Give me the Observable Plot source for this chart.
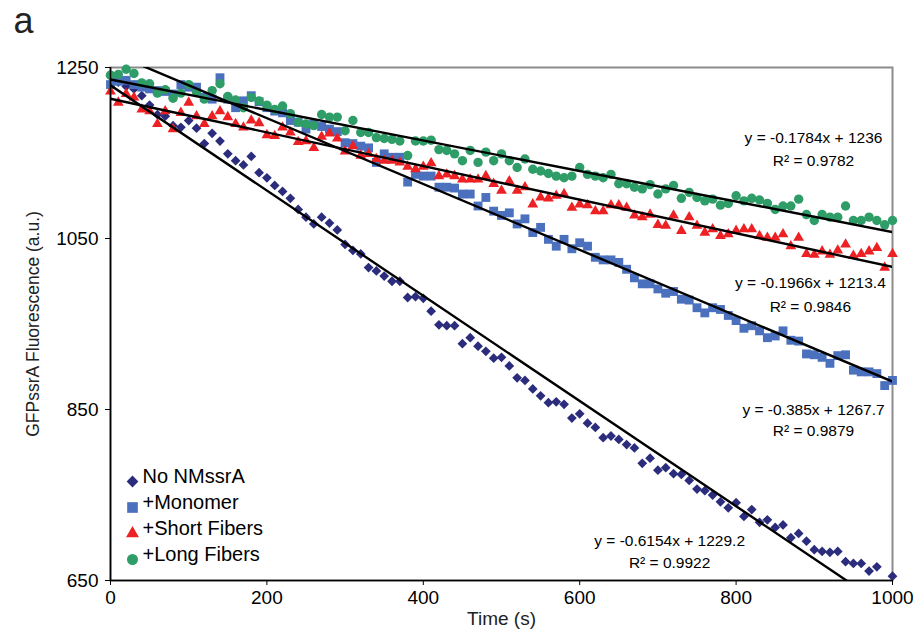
<!DOCTYPE html>
<html>
<head>
<meta charset="utf-8">
<script src="https://cdn.jsdelivr.net/npm/d3@7"></script>
<script src="https://cdn.jsdelivr.net/npm/@observablehq/plot@0.6"></script>
<style>
  html, body { margin: 0; padding: 0; background: #fff; }
  #chart { width: 922px; height: 640px; }
</style>
</head>
<body>
<div id="chart"></div>
<script>
// Sampling times (s)
const times = d3.range(0, 1001, 10);

// Series values (GFPssrA fluorescence, a.u.)
const noNMssrA = [1240,1233,1228,1225,1217,1206,1195,1193,1182,1180,
  1188,1179,1161,1173,1164,1149,1141,1136,1146,1127,
  1121,1112,1105,1097,1084,1075,1067,1075,1068,1060,
  1043,1036,1032,1016,1012,1006,1000,1000,981,982,
  980,965,949,948,948,927,934,924,918,910,
  911,901,887,884,874,866,858,859,856,840,
  845,834,829,817,819,815,809,805,787,793,
  779,782,775,774,767,757,755,750,742,735,
  741,725,733,718,721,712,715,700,705,696,
  686,684,683,684,672,670,670,661,666,null,
  655];
const monomer = [1230,1234,1235,1230,1227,1225,1223,1222,1219,1230,
  1227,1227,1215,1213,1238,1213,1203,1211,1217,1210,
  1203,1199,1197,1188,1186,1178,1184,1181,1178,1175,
  1162,1161,1158,1156,1139,1149,1145,1145,1116,1125,
  1123,1123,1110,1110,1109,1102,1102,1088,1098,1082,
  1077,1080,1067,1073,1057,1063,1049,1041,1049,1038,
  1045,1041,1028,1025,1025,1022,1014,1004,997,997,
  991,986,988,979,978,969,963,969,967,960,
  954,945,948,942,934,936,942,931,930,915,
  914,911,904,913,914,896,894,894,892,878,
  884];
const shortFibers = [1222,1209,1219,1215,1201,1199,1184,1199,1178,1197,
  1209,1193,1184,1193,1199,1192,1184,1180,1188,1185,
  1171,1170,1180,1174,1163,1164,1156,1169,1173,1167,
  1152,1158,1147,1149,1143,1141,1141,1139,1134,1131,
  1134,1138,1123,1125,1123,1119,1119,1119,1123,1114,
  1106,1117,1106,1110,1090,1098,1097,1100,1102,1086,
  1090,1089,1082,1082,1089,1089,1086,1077,1075,1078,
  1066,1065,1077,1059,1075,1065,1057,1061,1053,1055,
  1059,1061,1061,1053,1051,1051,1055,1041,1051,1032,
  1031,1035,1031,1036,1043,1030,1032,1035,1039,1016,
  1032];
const longFibers = [1241,1242,1248,1243,1232,1231,1220,1224,1214,1220,
  1230,1221,1213,1223,1231,1216,1212,1203,1215,1211,
  1206,1201,1205,1196,1186,1184,1182,1195,1192,1192,
  1176,1188,1174,1174,1168,1167,1166,1164,1147,1164,
  1164,1165,1154,1153,1149,1141,1153,1139,1151,1141,
  1149,1141,1133,1143,1131,1129,1126,1123,1121,1123,
  1133,1125,1123,1121,1125,1114,1114,1110,1108,1113,
  1102,1108,1112,1097,1104,1098,1094,1096,1089,1091,
  1100,1094,1097,1095,1091,1084,1088,1088,1096,1078,
  1071,1078,1075,1075,1088,1071,1071,1075,1071,1066,
  1071];

const seriesNames = ["No NMssrA", "+Monomer", "+Short Fibers", "+Long Fibers"];
const seriesValues = [noNMssrA, monomer, shortFibers, longFibers];

// Linear fits shown on the figure
const slopes = [-0.6154, -0.385, -0.1966, -0.1784];
const intercepts = [1229.2, 1267.7, 1213.4, 1236];
const rSquared = ["0.9922", "0.9879", "0.9846", "0.9782"];

const xTicks = [0, 200, 400, 600, 800, 1000];
const yTicks = [650, 850, 1050, 1250];

// Styles
const colors = ["#2b2d7c", "#4b70bd", "#ed2024", "#2f9d68"];
const symbols = ["diamond2", "square", "triangle", "circle"];
const radii = [4.4, 5.0, 4.0, 4.7];
const legendRadii = [5.3, 6.0, 4.8, 5.5];

const rows = seriesValues.map(vals =>
  times.map((t, i) => ({t, v: vals[i]})).filter(d => d.v != null));

const fitLines = slopes.map((m, i) =>
  [0, 1000].map(x => ({x, y: m * x + intercepts[i]})));

// annotation placement (data units) for each fit label
const eqPos = [[715, 696], [899, 849], [895, 998], [899, 1167]];
const r2Pos = [[715, 671], [899, 825], [895, 970], [899, 1141]];

const legendDy = [-99, -73, -47, -21];

const font = "Liberation Sans, Arial, Helvetica, sans-serif";

const marks = [
  Plot.frame({stroke: "#8c8c8c", strokeWidth: 2})
];
rows.forEach((r, i) => {
  marks.push(Plot.dot(r, {x: "t", y: "v", symbol: symbols[i], fill: colors[i], r: radii[i], stroke: "none"}));
});
fitLines.forEach(l => {
  marks.push(Plot.line(l, {x: "x", y: "y", stroke: "black", strokeWidth: 2.4, clip: true}));
});
marks.push(
  Plot.ruleX([0], {stroke: "black", strokeWidth: 1.6}),
  Plot.ruleY([650], {stroke: "black", strokeWidth: 1.6}),
  Plot.axisX({ticks: xTicks, tickSize: 5, tickPadding: 5, label: null, tickFormat: d => String(d), fontSize: 19}),
  Plot.axisY({ticks: yTicks, tickSize: 5, tickPadding: 7, label: null, tickFormat: d => String(d), fontSize: 19}),
  Plot.text(["GFPssrA Fluorescence (a.u.)"], {frameAnchor: "left", dx: -77, rotate: -90, textAnchor: "middle", fontSize: 17.5, fill: "#222"}),
  Plot.text(["Time (s)"], {frameAnchor: "bottom", dy: 44, textAnchor: "middle", fontSize: 19, fill: "#222"}),
  Plot.text(slopes.map((m, i) => ({x: eqPos[i][0], y: eqPos[i][1], s: `y = ${m}x + ${intercepts[i]}`})),
    {x: "x", y: "y", text: "s", fontSize: 15.5, textAnchor: "middle"}),
  Plot.text(rSquared.map((r, i) => ({x: r2Pos[i][0], y: r2Pos[i][1], s: `R² = ${r}`})),
    {x: "x", y: "y", text: "s", fontSize: 15.5, textAnchor: "middle"}),
  Plot.text(["a"], {frameAnchor: "top-left", dx: -97, dy: -60, fontSize: 36, textAnchor: "start", fill: "#222"})
);
seriesNames.forEach((name, i) => {
  marks.push(Plot.dot([name], {frameAnchor: "bottom-left", dx: 22, dy: legendDy[i], symbol: symbols[i], fill: colors[i], r: legendRadii[i]}));
  marks.push(Plot.text([name], {frameAnchor: "bottom-left", dx: 32, dy: legendDy[i] + 1, text: d => d, textAnchor: "start", fontSize: 20}));
});

const chart = Plot.plot({
  width: 922,
  height: 640,
  marginLeft: 110,
  marginRight: 30,
  marginTop: 67,
  marginBottom: 60,
  x: {domain: [0, 1000]},
  y: {domain: [650, 1250]},
  style: {fontFamily: font, fontSize: "19px", background: "white", color: "black"},
  marks
});
document.getElementById("chart").appendChild(chart);
</script>
</body>
</html>
